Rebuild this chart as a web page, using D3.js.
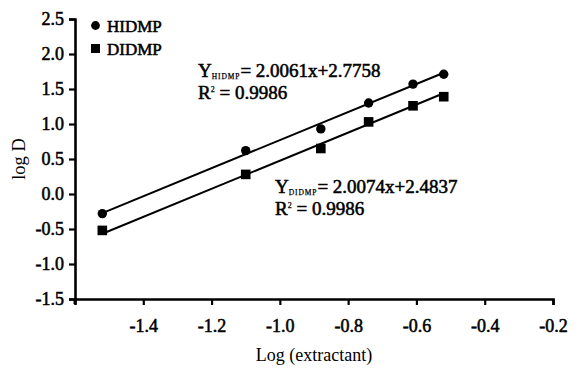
<!doctype html>
<meta charset="utf-8">
<title>log D vs Log (extractant)</title>
<script src="https://cdn.jsdelivr.net/npm/d3@7"></script>
<style>
  body { margin: 0; background: #fff; }
  text { font-family: 'Liberation Serif', 'Times New Roman', Times, serif; }
  .heavy text, text.heavy { stroke: #000; stroke-width: 0.55px; }
</style>
<body>
<script>
var logExt = [-1.52, -1.10, -0.88, -0.74, -0.61, -0.52];
var hidmp = [-0.28, 0.62, 0.93, 1.30, 1.57, 1.71];
var didmp = [-0.52, 0.28, 0.65, 1.03, 1.26, 1.39];
var fits = [
  { name: 'HIDMP', slope: 2.0061, icpt: 2.7758, r2: '0.9986' },
  { name: 'DIDMP', slope: 2.0074, icpt: 2.4837, r2: '0.9986' }
];
var xTicks = [-1.4, -1.2, -1.0, -0.8, -0.6, -0.4, -0.2];
var yTicks = [-1.5, -1.0, -0.5, 0.0, 0.5, 1.0, 1.5, 2.0, 2.5];

var width = 577, height = 368;
var FONT = "'Liberation Serif', 'Times New Roman', Times, serif";
var fmt = function(d) { return d.toFixed(1); };  // plain hyphen minus

var x = d3.scaleLinear().domain([-1.6, -0.2]).range([75, 553]);
var y = d3.scaleLinear().domain([-1.5, 2.5]).range([299, 19]);

var svg = d3.select('body').append('svg')
  .attr('width', width)
  .attr('height', height);

// axes
var xAxis = svg.append('g')
  .attr('transform', 'translate(0,' + y(-1.5) + ')')
  .call(d3.axisBottom(x).tickValues(xTicks).tickSize(6).tickFormat(fmt));
var yAxis = svg.append('g')
  .attr('transform', 'translate(' + x(-1.6) + ',0)')
  .call(d3.axisLeft(y).tickValues(yTicks).tickSize(6).tickFormat(fmt));

[xAxis, yAxis].forEach(function(g) {
  g.attr('font-family', FONT).attr('font-size', 18).classed('heavy', true);
  g.select('.domain').attr('stroke', '#000').attr('stroke-width', 2.6);
  g.selectAll('.tick line').attr('stroke', '#000').attr('stroke-width', 2.2);
  g.selectAll('.tick text').attr('fill', '#000')
    .style('font-family', FONT).style('font-size', '18px');
});
xAxis.selectAll('.tick text').attr('y', 20);
yAxis.selectAll('.tick text').attr('x', -11);
// small downward tick at origin
svg.append('line')
  .attr('x1', x(-1.6)).attr('x2', x(-1.6))
  .attr('y1', y(-1.5)).attr('y2', y(-1.5) + 5)
  .attr('stroke', '#000').attr('stroke-width', 3);

// fitted lines
fits.forEach(function(f) {
  var x0 = logExt[0], x1 = logExt[logExt.length - 1];
  svg.append('line')
    .attr('x1', x(x0)).attr('y1', y(f.slope * x0 + f.icpt))
    .attr('x2', x(x1)).attr('y2', y(f.slope * x1 + f.icpt))
    .attr('stroke', '#000').attr('stroke-width', 2);
});

// points
svg.append('g').selectAll('circle')
  .data(logExt)
  .enter().append('circle')
  .attr('cx', function(d) { return x(d); })
  .attr('cy', function(d, i) { return y(hidmp[i]); })
  .attr('r', 4.7);

svg.append('g').selectAll('rect')
  .data(logExt)
  .enter().append('rect')
  .attr('x', function(d) { return x(d) - 4.8; })
  .attr('y', function(d, i) { return y(didmp[i]) - 4.8; })
  .attr('width', 9.6).attr('height', 9.6);

// legend
var leg = svg.append('g').attr('font-size', 17).classed('heavy', true);
leg.append('circle').attr('cx', 95.5).attr('cy', 25.5).attr('r', 4.4);
leg.append('text').attr('x', 107).attr('y', 31.5).text('HIDMP');
leg.append('rect').attr('x', 91).attr('y', 44).attr('width', 9).attr('height', 9);
leg.append('text').attr('x', 107).attr('y', 55).text('DIDMP');

// equations
var eqPos = [[198, 77], [275, 193]];
fits.forEach(function(f, i) {
  var t = svg.append('text').classed('heavy', true)
    .attr('x', eqPos[i][0]).attr('y', eqPos[i][1])
    .attr('font-size', 19);
  t.append('tspan').text('Y');
  t.append('tspan').attr('dy', 2).attr('font-size', 7.5)
    .attr('letter-spacing', 0.9).attr('stroke-width', 0.25).text(f.name);
  t.append('tspan').attr('dy', -2).text('= ' + f.slope.toFixed(4) + 'x+' + f.icpt.toFixed(4));
  var r = svg.append('text').classed('heavy', true)
    .attr('x', eqPos[i][0]).attr('y', eqPos[i][1] + 21.5)
    .attr('font-size', 19);
  r.append('tspan').text('R');
  r.append('tspan').attr('dy', -7).attr('font-size', 8).attr('stroke-width', 0.25).text('2');
  r.append('tspan').attr('dy', 7).text(' = ' + f.r2);
});

// axis titles
svg.append('text')
  .attr('transform', 'translate(25,159) rotate(-90)')
  .attr('text-anchor', 'middle')
  .attr('font-size', 18.5)
  .text('log D');
svg.append('text')
  .attr('x', 314).attr('y', 361)
  .attr('text-anchor', 'middle')
  .attr('font-size', 18)
  .text('Log (extractant)');
</script>
</body>
